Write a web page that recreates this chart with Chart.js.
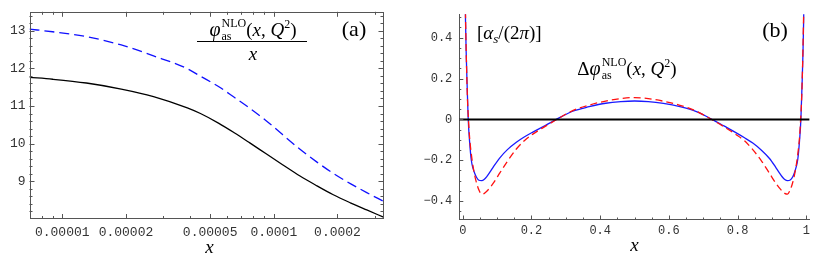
<!DOCTYPE html>
<html>
<head>
<meta charset="utf-8">
<script src="https://cdn.jsdelivr.net/npm/chart.js@4.4.0/dist/chart.umd.min.js"></script>
<style>
  html, body { margin: 0; padding: 0; background: #fff; }
  #wrap { position: relative; width: 814px; height: 254px; overflow: hidden; }
  canvas { position: absolute; top: 0; }
  #chartA { left: 0; }
  #chartB { left: 400px; }
</style>
</head>
<body>
<div id="wrap">
  <canvas id="chartA" width="400" height="254"></canvas>
  <canvas id="chartB" width="414" height="254"></canvas>
</div>
<script>
// ---- panel (a): phi_as^NLO(x,Q^2)/x, small x, log axis
const xA = [7e-6, 9e-6, 1.3e-5, 1.9e-5, 2.7e-5, 3.9e-5, 4.5e-5, 5.5e-5, 6.5e-5, 7.7e-5,
            9.2e-5, 1.1e-4, 1.33e-4, 1.6e-4, 1.9e-4, 2.3e-4, 2.75e-4, 3.3e-4];
const blackA = [11.76, 11.71, 11.61, 11.45, 11.25, 10.95, 10.80, 10.54, 10.29, 10.02,
                9.73, 9.44, 9.14, 8.88, 8.65, 8.43, 8.24, 8.05];
const blueA = [13.04, 12.97, 12.84, 12.62, 12.33, 11.99, 11.79, 11.51, 11.23, 10.94,
               10.61, 10.24, 9.85, 9.51, 9.22, 8.94, 8.70, 8.47];
const xMajorA = [1e-5, 2e-5, 5e-5, 1e-4, 2e-4];
const xMajorLabelsA = ["0.00001", "0.00002", "0.00005", "0.0001", "0.0002"];
const xMinorA = [8e-6, 9e-6, 3e-5, 4e-5, 6e-5, 7e-5, 8e-5, 9e-5, 3e-4];
const yMajorA = [9, 10, 11, 12, 13];

// ---- panel (b): Delta phi_as^NLO(x,Q^2)
const xB = [0.006, 0.008, 0.01, 0.012, 0.014, 0.016, 0.02, 0.025, 0.03, 0.035, 0.04, 0.047, 0.055, 0.063,
            0.07, 0.08, 0.09, 0.108, 0.13, 0.156, 0.18, 0.204, 0.24, 0.272, 0.32, 0.368, 0.416, 0.46,
            0.5,
            0.54, 0.584, 0.632, 0.68, 0.728, 0.76, 0.796, 0.82, 0.844, 0.87, 0.892, 0.91, 0.92, 0.93,
            0.937, 0.945, 0.953, 0.96, 0.965, 0.97, 0.975, 0.98, 0.984, 0.986, 0.988, 0.99, 0.992, 0.994];
const blueB = [0.75, 0.49, 0.33, 0.21, 0.10, 0.0, -0.11, -0.20, -0.24, -0.265, -0.283, -0.298, -0.30, -0.293,
               -0.28, -0.256, -0.23, -0.188, -0.148, -0.112, -0.085, -0.062, -0.03, 0.0, 0.04, 0.062, 0.079, 0.087,
               0.09,
               0.087, 0.078, 0.062, 0.038, -0.002, -0.032, -0.066, -0.09, -0.116, -0.152, -0.19, -0.232, -0.258, -0.282,
               -0.294, -0.30, -0.297, -0.282, -0.262, -0.235, -0.195, -0.105, 0.0, 0.1, 0.2, 0.32, 0.48, 0.74];
const redB = [0.80, 0.52, 0.34, 0.20, 0.09, 0.02, -0.09, -0.17, -0.23, -0.275, -0.31, -0.345, -0.366, -0.362,
              -0.352, -0.333, -0.31, -0.262, -0.205, -0.145, -0.103, -0.072, -0.034, -0.002, 0.043, 0.07, 0.09, 0.102,
              0.107,
              0.102, 0.089, 0.069, 0.04, -0.004, -0.036, -0.075, -0.105, -0.148, -0.205, -0.262, -0.31, -0.333, -0.352,
              -0.362, -0.366, -0.345, -0.31, -0.275, -0.23, -0.17, -0.09, 0.02, 0.09, 0.2, 0.34, 0.52, 0.80];
const zeroLineX = [-0.01, 1.01];
const zeroLineY = [0, 0];
const xMajorB = [0, 0.2, 0.4, 0.6, 0.8, 1];
const xMajorLabelsB = ["0", "0.2", "0.4", "0.6", "0.8", "1"];
const yMajorB = [-0.4, -0.2, 0, 0.2, 0.4];
const yMajorLabelsB = ["\u22120.4", "\u22120.2", "0", "0.2", "0.4"];

const MONO = '"Liberation Mono", "DejaVu Sans Mono", monospace';
const SERIF = '"Liberation Serif", "DejaVu Serif", serif';
const AXIS = "#555";

function pts(xs, ys) { return xs.map((x, i) => ({ x: x, y: ys[i] })); }

// minor ticks every step between lo and hi, skipping majors
function minorTicks(lo, hi, step, majors) {
  const out = [];
  for (let v = lo; v <= hi + 1e-9; v += step) {
    const r = Math.round(v * 1000) / 1000;
    if (!majors.some(m => Math.abs(m - r) < 1e-6)) out.push(r);
  }
  return out;
}

// draw a run of text pieces, piece may be {sup, sub} stacked
function drawRun(ctx, x, y, parts, align) {
  const widthOf = p => {
    if (p.sup !== undefined) {
      ctx.font = p.font;
      return Math.max(ctx.measureText(p.sup).width, ctx.measureText(p.sub).width) + 1;
    }
    ctx.font = p.font;
    return ctx.measureText(p.text).width + (p.kern || 0);
  };
  let total = 0;
  parts.forEach(p => { total += widthOf(p); });
  let cx = align === "center" ? x - total / 2 : x;
  ctx.textAlign = "left";
  ctx.textBaseline = "alphabetic";
  parts.forEach(p => {
    ctx.font = p.font;
    if (p.sup !== undefined) {
      ctx.fillText(p.sup, cx + 1, y - 9);
      ctx.fillText(p.sub, cx + 1, y + 4);
    } else {
      ctx.fillText(p.text, cx, y + (p.dy || 0));
    }
    cx += widthOf(p);
  });
}

function tickLine(ctx, scale, area, v, len, side) {
  const p = Math.round(scale.getPixelForValue(v)) + 0.5;
  ctx.beginPath();
  if (side === "bottom") { ctx.moveTo(p, area.bottom); ctx.lineTo(p, area.bottom - len); }
  if (side === "top") { ctx.moveTo(p, area.top); ctx.lineTo(p, area.top + len); }
  if (side === "left") { ctx.moveTo(area.left, p); ctx.lineTo(area.left + len, p); }
  if (side === "right") { ctx.moveTo(area.right, p); ctx.lineTo(area.right - len, p); }
  ctx.stroke();
}

const itl = s => "italic " + s + "px " + SERIF;
const rom = s => s + "px " + SERIF;

// ---------------- chart (a)
const decorA = {
  id: "decorA",
  afterDraw(chart) {
    const ctx = chart.ctx, a = chart.chartArea;
    const xs = chart.scales.x, ys = chart.scales.y;
    ctx.save();
    ctx.strokeStyle = AXIS;
    ctx.lineWidth = 1;
    ctx.strokeRect(Math.round(a.left) + 0.5, Math.round(a.top) + 0.5,
                   Math.round(a.right - a.left) - 1, Math.round(a.bottom - a.top) - 1);
    const yMinor = minorTicks(8.2, 13.4, 0.2, yMajorA);
    ["bottom", "top"].forEach(s => {
      xMajorA.forEach(v => tickLine(ctx, xs, a, v, 5, s));
      xMinorA.forEach(v => tickLine(ctx, xs, a, v, 3, s));
    });
    ["left", "right"].forEach(s => {
      yMajorA.forEach(v => tickLine(ctx, ys, a, v, 5, s));
      yMinor.forEach(v => tickLine(ctx, ys, a, v, 3, s));
    });
    ctx.fillStyle = "#000";
    // fraction label
    drawRun(ctx, 253, 36, [
      { text: "\u03c6", font: itl(20) },
      { sup: "NLO", sub: "as", font: rom(12) },
      { text: "(", font: rom(19) },
      { text: "x", font: itl(19) },
      { text: ", ", font: rom(19) },
      { text: "Q", font: itl(19) },
      { text: "2", font: rom(12), dy: -8 },
      { text: ")", font: rom(19) }
    ], "center");
    ctx.fillRect(197, 41, 110, 1);
    drawRun(ctx, 253, 60, [{ text: "x", font: itl(19) }], "center");
    drawRun(ctx, 354, 36, [{ text: "(a)", font: rom(22) }], "center");
    // axis title
    drawRun(ctx, (a.left + a.right) / 2 + 3, 253, [{ text: "x", font: itl(19) }], "center");
    ctx.restore();
  }
};

new Chart(document.getElementById("chartA").getContext("2d"), {
  type: "line",
  data: {
    datasets: [
      { data: pts(xA, blackA), borderColor: "#000", borderWidth: 1.3, pointRadius: 0,
        cubicInterpolationMode: "monotone", fill: false },
      { data: pts(xA, blueA), borderColor: "#1010ff", borderWidth: 1.3, borderDash: [10, 5], pointRadius: 0,
        cubicInterpolationMode: "monotone", fill: false }
    ]
  },
  options: {
    responsive: false,
    animation: false,
    devicePixelRatio: 1,
    layout: { padding: { left: 0, right: 16.5, top: 0.5, bottom: 0 } },
    plugins: { legend: { display: false }, tooltip: { enabled: false } },
    scales: {
      x: {
        type: "logarithmic", min: 7e-6, max: 3.3e-4,
        grid: { display: false, drawTicks: false },
        border: { display: false },
        afterBuildTicks: s => { s.ticks = xMajorA.map(v => ({ value: v })); },
        afterFit: s => { s.height = 35; },
        ticks: {
          autoSkip: false, maxRotation: 0, padding: 6, color: "#333",
          font: { family: MONO, size: 13 },
          callback: v => { const i = xMajorA.findIndex(m => Math.abs(m - v) / m < 1e-6); return i >= 0 ? xMajorLabelsA[i] : ""; }
        }
      },
      y: {
        min: 8, max: 13.5,
        grid: { display: false, drawTicks: false },
        border: { display: false },
        afterBuildTicks: s => { s.ticks = yMajorA.map(v => ({ value: v })); },
        afterFit: s => { s.width = 29.5; },
        ticks: { padding: 4, color: "#333", font: { family: MONO, size: 13 }, callback: v => String(v) }
      }
    }
  },
  plugins: [decorA]
});

// ---------------- chart (b)
const decorB = {
  id: "decorB",
  afterDraw(chart) {
    const ctx = chart.ctx, a = chart.chartArea;
    const xs = chart.scales.x, ys = chart.scales.y;
    ctx.save();
    ctx.strokeStyle = AXIS;
    ctx.lineWidth = 1;
    xMajorB.forEach(v => tickLine(ctx, xs, a, v, 4, "bottom"));
    minorTicks(0.05, 0.95, 0.05, xMajorB).forEach(v => tickLine(ctx, xs, a, v, 2, "bottom"));
    yMajorB.forEach(v => tickLine(ctx, ys, a, v, 4, "left"));
    minorTicks(-0.45, 0.5, 0.05, yMajorB).forEach(v => tickLine(ctx, ys, a, v, 2, "left"));
    ctx.fillStyle = "#000";
    drawRun(ctx, 77, 39, [
      { text: "[", font: rom(19) },
      { text: "\u03b1", font: itl(19) },
      { text: "s", font: itl(13), dy: 4 },
      { text: "/(2", font: rom(19) },
      { text: "\u03c0", font: itl(19) },
      { text: ")]", font: rom(19) }
    ], "left");
    drawRun(ctx, 375, 37, [{ text: "(b)", font: rom(22) }], "center");
    drawRun(ctx, 227, 75, [
      { text: "\u0394", font: rom(19) },
      { text: "\u03c6", font: itl(20) },
      { sup: "NLO", sub: "as", font: rom(12) },
      { text: "(", font: rom(19) },
      { text: "x", font: itl(19) },
      { text: ", ", font: rom(19) },
      { text: "Q", font: itl(19) },
      { text: "2", font: rom(12), dy: -8 },
      { text: ")", font: rom(19) }
    ], "center");
    drawRun(ctx, (a.left + a.right) / 2, 251, [{ text: "x", font: itl(19) }], "center");
    ctx.restore();
  }
};

new Chart(document.getElementById("chartB").getContext("2d"), {
  type: "line",
  data: {
    datasets: [
      { data: pts(zeroLineX, zeroLineY), borderColor: "#000", borderWidth: 2, pointRadius: 0, fill: false },
      { data: pts(xB, redB), borderColor: "#ff1010", borderWidth: 1.3, borderDash: [7, 4], pointRadius: 0,
        cubicInterpolationMode: "monotone", fill: false },
      { data: pts(xB, blueB), borderColor: "#1a1aff", borderWidth: 1.3, pointRadius: 0,
        cubicInterpolationMode: "monotone", fill: false }
    ]
  },
  options: {
    responsive: false,
    animation: false,
    devicePixelRatio: 1,
    layout: { padding: { left: 0, right: 2, top: 0, bottom: 0 } },
    plugins: { legend: { display: false }, tooltip: { enabled: false } },
    scales: {
      x: {
        type: "linear", min: -0.01, max: 1.009,
        grid: { display: false, drawTicks: false },
        border: { display: true, color: AXIS, width: 1 },
        afterBuildTicks: s => { s.ticks = xMajorB.map(v => ({ value: v })); },
        afterFit: s => { s.height = 34.5; },
        ticks: {
          autoSkip: false, maxRotation: 0, padding: 4, color: "#333",
          font: { family: MONO, size: 12 },
          callback: (v, i) => xMajorLabelsB[i]
        }
      },
      y: {
        min: -0.49, max: 0.515,
        grid: { display: false, drawTicks: false },
        border: { display: true, color: AXIS, width: 1 },
        afterBuildTicks: s => { s.ticks = yMajorB.map(v => ({ value: v })); },
        afterFit: s => { s.width = 59.3; },
        ticks: {
          padding: 7, color: "#333", font: { family: MONO, size: 12 },
          callback: (v, i) => yMajorLabelsB[i]
        }
      }
    }
  },
  plugins: [decorB]
});
</script>
</body>
</html>
